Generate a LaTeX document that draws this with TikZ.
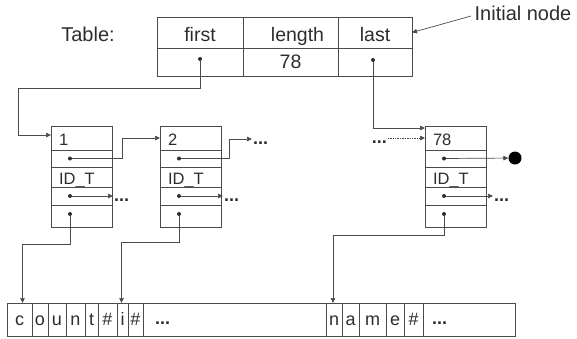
\documentclass[tikz,border=0pt]{standalone}
\usepackage{fontspec}
\setmainfont{Liberation Sans}
\usetikzlibrary{arrows.meta}

\definecolor{inkgray}{RGB}{45, 45, 45}
\definecolor{linegray}{RGB}{75, 75, 75}

\tikzset{
    cell/.style = {
        draw        = linegray,
        line width  = 0.8pt,
        inner xsep  = 8pt,
        inner ysep  = 0pt,
        outer sep   = 0pt,
        text width  = 45pt,
        text height = 14pt,
        text depth  = 0pt,
        align       = left,
        text        = inkgray,
        font        = \fontsize{16.5}{18}\selectfont
    },
    tcell/.style = {
        draw        = linegray,
        line width  = 0.8pt,
        inner sep   = 0pt,
        outer sep   = 0pt,
        text height = 14pt,
        text depth  = 2pt,
        text        = inkgray,
        font        = \fontsize{19.5}{22}\selectfont
    },
    thead/.style = {
        tcell,
        text height = 18pt,
        text depth  = 0pt
    },
    scell/.style = {
        draw        = linegray,
        line width  = 0.8pt,
        inner sep   = 0pt,
        outer sep   = 0pt,
        minimum height = 33pt,
        text height = 11pt,
        text depth  = 0pt,
        text        = inkgray,
        font        = \fontsize{18}{20}\selectfont
    },
    dot/.style = {
        circle,
        fill        = inkgray,
        inner sep   = 0pt,
        minimum size = 4pt
    },
    more/.style = {
        text        = inkgray,
        inner sep   = 1pt,
        text height = 10pt,
        text depth  = 0pt,
        font        = \fontsize{18}{20}\selectfont\bfseries
    },
    ptr/.style = {
        draw        = linegray,
        line width  = 0.7pt,
        -{Triangle[length=5pt, width=4.5pt]}
    }
}

\begin{document}
\begin{tikzpicture}[x=1pt, y=-1pt]
    \useasboundingbox (0,0) rectangle (577,338);

    % labels
    \node[text = inkgray, font = \fontsize{20}{22}\selectfont, anchor = base] (tlabel) at (88,41) {Table:};
    \node[text = inkgray, font = \fontsize{20}{22}\selectfont] (init) at (523,13) {Initial node};

    % the table
    \node[thead, minimum width = 86, minimum height = 31, anchor = north west] (t11) at (157,17) {first};
    \node[thead, minimum width = 95, minimum height = 31, anchor = west] (t12) at (t11.east) {\hspace{14pt}length};
    \node[thead, minimum width = 74, minimum height = 31, anchor = west] (t13) at (t12.east) {last};
    \node[tcell, minimum width = 86, minimum height = 28, anchor = north] (t21) at (t11.south) {};
    \node[tcell, minimum width = 95, minimum height = 28, anchor = north] (t22) at (t12.south) {78};
    \node[tcell, minimum width = 74, minimum height = 28, anchor = north] (t23) at (t13.south) {};
    \node[dot] (dF) at ([yshift = 3]t21.center) {};
    \node[dot] (dL) at ([xshift = -2, yshift = 2]t23.center) {};

    \draw[ptr] ([yshift = -3]init.west) -- (t13.east);

    % list nodes
    \foreach \bx/\x/\v in {a/51/1, b/160/2, c/425/78} {
        \node[cell, minimum height = 24, anchor = north west] (\bx1) at (\x,126) {\v};
        \node[cell, minimum height = 17, anchor = north] (\bx2) at (\bx1.south) {};
        \node[cell, minimum height = 20, anchor = north] (\bx3) at (\bx2.south) {ID\_T};
        \node[cell, minimum height = 18, anchor = north] (\bx4) at (\bx3.south) {};
        \node[cell, minimum height = 22, anchor = north] (\bx5) at (\bx4.south) {};
        \node[dot] (\bx2d) at ([xshift = 19]\bx2.west) {};
        \node[dot] (\bx4d) at ([xshift = 19]\bx4.west) {};
        \node[dot] (\bx5d) at ([xshift = 19, yshift = 2]\bx5.west) {};
    }

    % the string area
    \foreach \l/\r/\c [count=\i] in {7/32/c, 32/48/o, 48/66/u, 66/85/n, 85/98/t, 98/117/\#,
        117/128/i, 128/143/\#, 143/326/{}, 326/342/n, 342/359/a, 359/386/m, 386/404/e,
        404/423/\#, 423/515/{}} {
        \node[scell, minimum width = {\r-\l}, anchor = north west] (s\i) at (\l,303) {\c};
    }
    \node[more, anchor = west] (s9m) at ([xshift = 11]s9.west) {...};
    \node[more, anchor = west] (s15m) at ([xshift = 8]s15.west) {...};

    % continuation marks
    \node[more, anchor = west] (bm1) at (252,139) {...};
    \node[more, anchor = west] (am2) at (113,196) {...};
    \node[more, anchor = west] (bm2) at (223,196) {...};
    \node[more, anchor = west] (cm2) at (493,196) {...};
    \node[more, anchor = east] (cm0) at (388,138) {...};
    \node[circle, fill = black, inner sep = 0pt, minimum size = 13pt] (ball) at (515,158) {};

    % pointers
    \coordinate (k1) at (18,88);
    \draw[ptr] (dF) |- (k1) |- ([yshift = 3]a1.west);
    \draw[ptr] (dL) |- ([yshift = 10]c1.west);
    \draw[ptr, densely dotted] (cm0.east) -- (c1.west);

    \draw[ptr] (a2d) -- ++(52,0) |- (b1.west);
    \draw[ptr] (b2d) -- ++(50,0) |- (bm1);
    \draw[ptr] (c2d) -- (ball);

    \draw[ptr] (a4d) -- (am2);
    \draw[ptr] (b4d) -- (bm2);
    \draw[ptr] (c4d) -- (cm2);

    \draw[ptr] (a5d) -- ++(0,30) -| ([xshift = 3]s1.north);
    \draw[ptr] (b5d) -- ++(0,28) -| ([xshift = -1]s7.north);
    \draw[ptr] (c5d) -- ++(0,21) -| ([xshift = -1]s10.north);
\end{tikzpicture}
\end{document}
